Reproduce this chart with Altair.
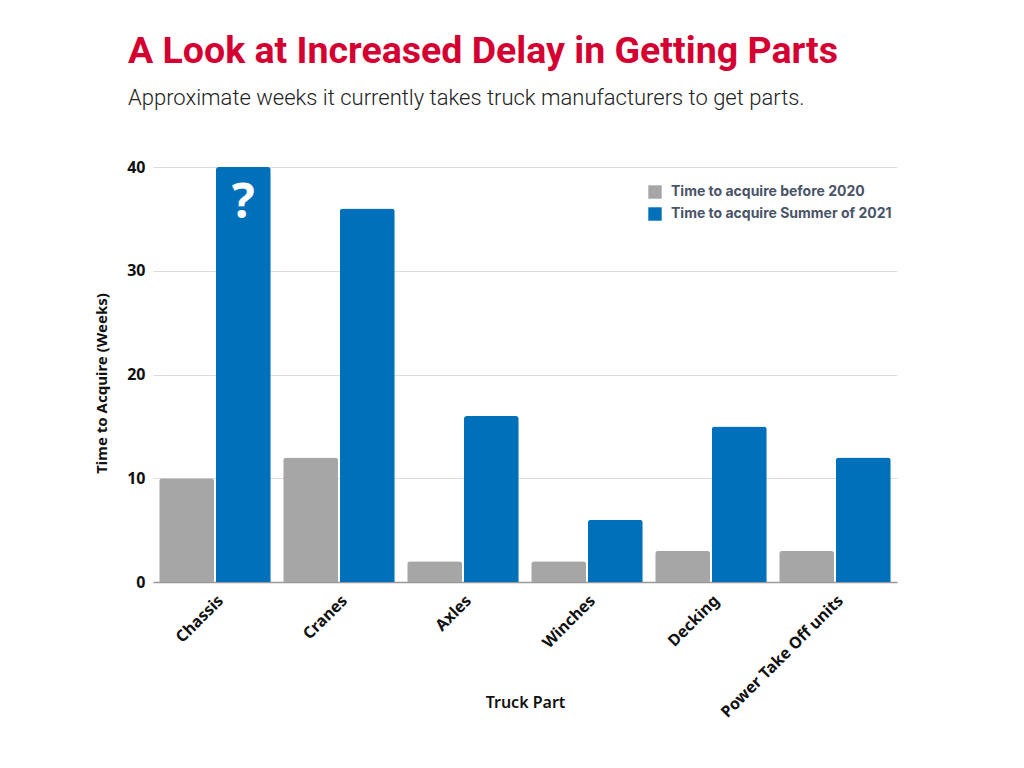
import altair as alt
import pandas as pd

parts = ["Chassis", "Cranes", "Axles", "Winches", "Decking", "Power Take Off units"]
series_names = ["Time to acquire before 2020", "Time to acquire Summer of 2021"]
before_2020 = [10, 12, 2, 2, 3, 3]
summer_2021 = [40, 36, 16, 6, 15, 12]
y_ticks = [0, 10, 20, 30, 40]

rows = []
for p, a, b in zip(parts, before_2020, summer_2021):
    rows.append({"part": p, "series": series_names[0], "weeks": a})
    rows.append({"part": p, "series": series_names[1], "weeks": b})
df = pd.DataFrame(rows)

annot = pd.DataFrame([{"part": "Chassis", "series": series_names[1], "weeks": 40, "label": "?"}])

colors = ["#A6A6A6", "#0070BB"]

x_enc = alt.X("part:N", sort=parts,
              scale=alt.Scale(paddingInner=0.1, paddingOuter=0.05),
              axis=alt.Axis(title="Truck Part", labelAngle=-45, labelFont="Noto Sans",
                            labelFontWeight="bold", labelFontSize=16, labelColor="#111",
                            ticks=False, grid=False, domain=True, domainColor="#999999",
                            domainWidth=1.5,
                            titleFont="Noto Sans", titleFontSize=16, titleFontWeight=600,
                            titleColor="#111", titleY=120, titleBaseline="middle",
                            labelPadding=10, labelLimit=0))
xoff = alt.XOffset("series:N", sort=series_names, scale=alt.Scale(paddingInner=0.03))
y_enc = alt.Y("weeks:Q", scale=alt.Scale(domain=[0, 40], nice=False),
              axis=alt.Axis(title="Time to Acquire (Weeks)", values=y_ticks, ticks=False,
                            domain=False, gridColor="#DDDDDD", labelFont="Noto Sans",
                            labelFontWeight="bold", labelFontSize=16, labelColor="#111",
                            labelPadding=8, titleFont="Noto Sans", titleFontSize=15,
                            titleFontWeight="bold", titleColor="#111", titlePadding=17,
                            titleY=216))

bars = alt.Chart(df).mark_bar(cornerRadiusTopLeft=3, cornerRadiusTopRight=3).encode(
    x=x_enc,
    xOffset=xoff,
    y=y_enc,
    color=alt.Color("series:N", sort=series_names,
                    scale=alt.Scale(domain=series_names, range=colors),
                    legend=alt.Legend(title=None, orient="none", legendX=495, legendY=18,
                                      symbolType="square", symbolSize=180,
                                      symbolStrokeWidth=0, labelFont="Inter",
                                      labelFontWeight="bold", labelFontSize=14,
                                      labelColor="#4A5468", rowPadding=8, labelLimit=0,
                                      labelOffset=9)),
)

qmark = alt.Chart(annot).mark_text(font="Noto Sans", fontWeight="bold", fontSize=48,
                                   color="white", baseline="top", dy=13).encode(
    x=alt.X("part:N", sort=parts),
    xOffset=alt.XOffset("series:N", sort=series_names),
    y=alt.Y("weeks:Q"),
    text="label:N",
)

chart = alt.layer(bars, qmark).properties(
    width=744, height=415,
    background="white",
    autosize=alt.AutoSizeParams(type="none"),
    padding={"left": 145, "top": 159, "right": 119, "bottom": 178},
    title=alt.TitleParams(
        text="A Look at Increased Delay in Getting Parts",
        subtitle="Approximate weeks it currently takes truck manufacturers to get parts.",
        anchor="start", frame="group", dx=-25, offset=50,
        font="Roboto", fontSize=37.5, fontWeight="bold", color="#D50032",
        subtitleFont="Roboto", subtitleFontSize=22, subtitleFontWeight=300,
        subtitleColor="#222", subtitlePadding=18,
    ),
).configure_view(strokeWidth=0, stroke="transparent")

chart.save("out.html", embed_options={"renderer": "svg", "actions": False})
